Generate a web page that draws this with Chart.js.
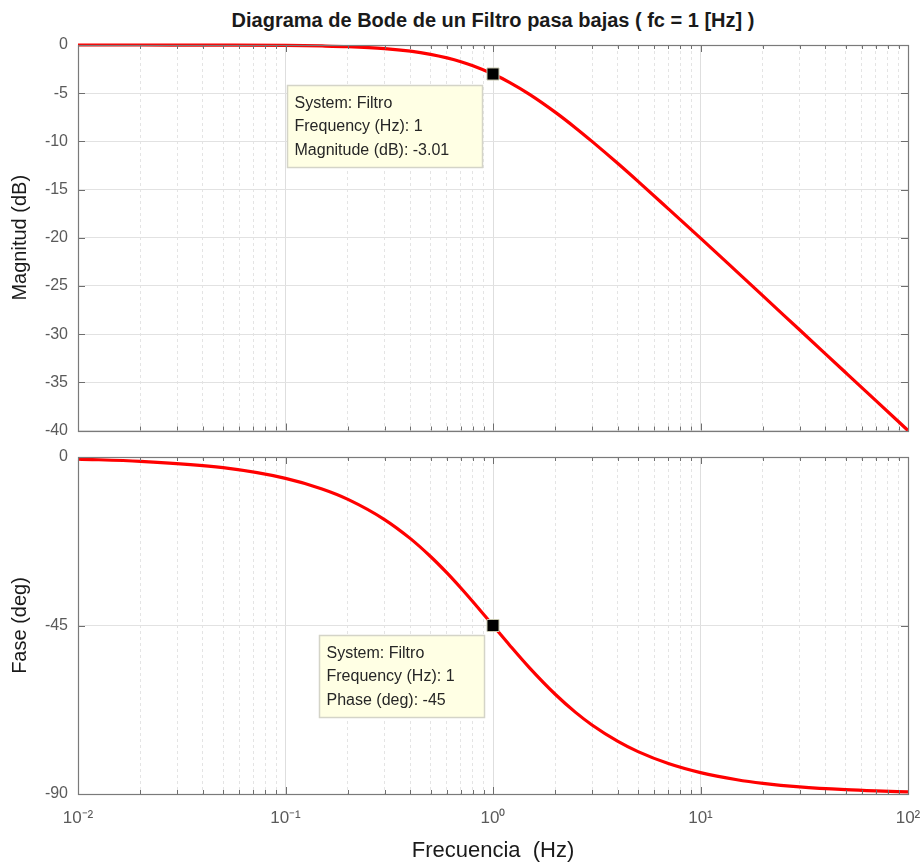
<!DOCTYPE html>
<html><head><meta charset="utf-8">
<script src="https://cdn.jsdelivr.net/npm/chart.js@4.4.1/dist/chart.umd.min.js"></script>
<style>
body{margin:0;background:#fff;width:924px;height:867px;position:relative;overflow:hidden;font-family:"Liberation Sans",Arial,sans-serif}
#title{position:absolute;left:78px;width:830px;top:7px;text-align:center;font-weight:bold;font-size:20px;line-height:26px;color:#1a1a1a}
#c1w{position:absolute;left:0;top:0;width:924px;height:440px}
#c2w{position:absolute;left:0;top:440px;width:924px;height:427px}
</style></head><body>
<div id="title">Diagrama de Bode de un Filtro pasa bajas ( fc = 1 [Hz] )</div>
<div id="c1w"><canvas id="c1"></canvas></div>
<div id="c2w"><canvas id="c2"></canvas></div>
<script>
// ---- data ----
const freqHz = [0.01,0.02,0.05,0.1,0.15,0.2,0.3,0.4,0.5,0.6,0.7,0.8,1,1.2,1.5,2,2.5,3,4,5,7,10,15,20,30,50,70,100];
const magnitudeDb = [0,-0.002,-0.01,-0.04,-0.1,-0.17,-0.37,-0.64,-0.97,-1.34,-1.73,-2.15,-3.01,-3.87,-5.12,-6.99,-8.6,-10.0,-12.3,-14.15,-17.0,-20.04,-23.54,-26.03,-29.55,-33.98,-36.9,-40.0];
const phaseDeg = [-0.57,-1.15,-2.86,-5.71,-8.53,-11.31,-16.7,-21.8,-26.57,-30.96,-34.99,-38.66,-45,-50.19,-56.31,-63.43,-68.2,-71.57,-75.96,-78.69,-81.87,-84.29,-86.19,-87.14,-88.09,-88.85,-89.18,-89.43];
const markerFreq = [1];
const markerMag = [-3.01];
const markerPhase = [-45];
const xTickValues = [0.01,0.02,0.03,0.04,0.05,0.06,0.07,0.08,0.09,0.1,0.2,0.3,0.4,0.5,0.6,0.7,0.8,0.9,1,2,3,4,5,6,7,8,9,10,20,30,40,50,60,70,80,90,100];
const decadeLabels = {"-2":"10⁻²","-1":"10⁻¹","0":"10⁰","1":"10¹","2":"10²"};
const magTicks = [0,-5,-10,-15,-20,-25,-30,-35,-40];
const phaseTicks = [0,-45,-90];
const tipMag = ["System: Filtro","Frequency (Hz): 1","Magnitude (dB): -3.01"];
const tipPhase = ["System: Filtro","Frequency (Hz): 1","Phase (deg): -45"];

const FONT = "'Liberation Sans', Arial, sans-serif";
function isDecade(v){const l=Math.log10(v);return Math.abs(l-Math.round(l))<1e-6;}

const framePlugin = {
  id:'frame',
  afterDraw(chart, args, opts){
    const ctx=chart.ctx, a=chart.chartArea, xs=chart.scales.x, ys=chart.scales.y;
    ctx.save();
    ctx.strokeStyle='#6e6e6e'; ctx.lineWidth=1;
    ctx.beginPath();
    xTickValues.forEach(v=>{
      const px=Math.round(xs.getPixelForValue(v))+0.5;
      const L = isDecade(v)?7:4;
      ctx.moveTo(px,a.top); ctx.lineTo(px,a.top+L);
      ctx.moveTo(px,a.bottom); ctx.lineTo(px,a.bottom-L);
    });
    (opts.yticks||[]).forEach(v=>{
      const py=Math.round(ys.getPixelForValue(v))+0.5;
      ctx.moveTo(a.left,py); ctx.lineTo(a.left+7,py);
      ctx.moveTo(a.right,py); ctx.lineTo(a.right-7,py);
    });
    ctx.stroke();
    ctx.strokeStyle='#7a7a7a'; ctx.lineWidth=1.2;
    ctx.strokeRect(Math.round(a.left)+0.5,Math.round(a.top)+0.5,Math.round(a.right-a.left),Math.round(a.bottom-a.top));
    if(opts.tip){
      const t=opts.tip;
      const px=xs.getPixelForValue(t.x), py=ys.getPixelForValue(t.y);
      const bx=Math.round(px+t.dx)+0.5, by=Math.round(py+t.dy)+0.5;
      ctx.fillStyle='#ffffe4'; ctx.strokeStyle='#d4d4c8'; ctx.lineWidth=1.5;
      ctx.fillRect(bx,by,t.w,t.h); ctx.strokeRect(bx,by,t.w,t.h);
      ctx.fillStyle='#262626'; ctx.font='16px '+FONT; ctx.textBaseline='middle'; ctx.textAlign='left';
      t.lines.forEach((s,i)=>ctx.fillText(s,bx+7,by+18+i*23.5));
    }
    ctx.restore();
  }
};

function xScale(showLabels){
  return {
    type:'logarithmic', min:0.01, max:100,
    afterBuildTicks(s){ s.ticks = xTickValues.map(v=>({value:v, major:isDecade(v)})); },
    afterFit(s){ s.height = showLabels?73:0; s.paddingLeft=0; s.paddingRight=0; },
    ticks:{ display:showLabels, autoSkip:false, maxRotation:0, minRotation:0, padding:14,
      color:'#5a5a5a', font:{family:FONT,size:17},
      callback(v){ if(!isDecade(v)) return ''; return decadeLabels[String(Math.round(Math.log10(v)))]; } },
    grid:{ drawTicks:false, color(c){ return c.tick && isDecade(c.tick.value)?'#dedede':'#e4e4e4'; }, lineWidth:1 },
    border:{ display:false, dash(c){ return c.tick && isDecade(c.tick.value)?[]:[3,3]; } },
    title:{ display:showLabels, text:'Frecuencia  (Hz)', color:'#1a1a1a', font:{family:FONT,size:22}, padding:{top:0,bottom:3} }
  };
}
function yScale(min,max,ticksArr,title){
  return {
    type:'linear', min:min, max:max,
    afterBuildTicks(s){ s.ticks = ticksArr.map(v=>({value:v})); },
    afterFit(s){ s.width = 78; s.paddingTop=0; s.paddingBottom=0; },
    ticks:{ padding:10, color:'#5a5a5a', font:{family:FONT,size:16} },
    grid:{ drawTicks:false, color:'#e2e2e2', lineWidth:1 },
    border:{ display:false },
    title:{ display:true, text:title, color:'#1a1a1a', font:{family:FONT,size:20}, padding:{top:8,bottom:0} }
  };
}
function makeChart(id, yVals, mVals, yopts, padding, tip, yticks, showX){
  return new Chart(document.getElementById(id), {
    type:'line',
    data:{ datasets:[
      { data: markerFreq.map((f,i)=>({x:f,y:mVals[i]})), showLine:false, pointStyle:'rect',
        pointRadius:8.5, pointBackgroundColor:'#000', pointBorderColor:'#c8c8b0', pointBorderWidth:1, order:0 },
      { data: freqHz.map((f,i)=>({x:f,y:yVals[i]})), borderColor:'#ff0000', borderWidth:3.2,
        pointRadius:0, cubicInterpolationMode:'monotone', fill:false, clip:4, order:1 }
    ]},
    options:{
      responsive:true, maintainAspectRatio:false, animation:false,
      layout:{ padding: padding },
      plugins:{ legend:{display:false}, tooltip:{enabled:false}, frame:{ tip:tip, yticks:yticks } },
      scales:{ x:xScale(showX), y:yopts }
    },
    plugins:[framePlugin]
  });
}
makeChart('c1', magnitudeDb, markerMag, yScale(-40,0,magTicks,'Magnitud (dB)'),
  {top:45,right:16,bottom:7,left:0},
  {x:markerFreq[0], y:markerMag[0], dx:-206, dy:11, w:195, h:82, lines:tipMag}, magTicks, false);
makeChart('c2', phaseDeg, markerPhase, yScale(-90,0,phaseTicks,'Fase (deg)'),
  {top:17,right:16,bottom:0,left:0},
  {x:markerFreq[0], y:markerPhase[0], dx:-174, dy:9, w:165, h:82, lines:tipPhase}, phaseTicks, true);
</script>
</body></html>
